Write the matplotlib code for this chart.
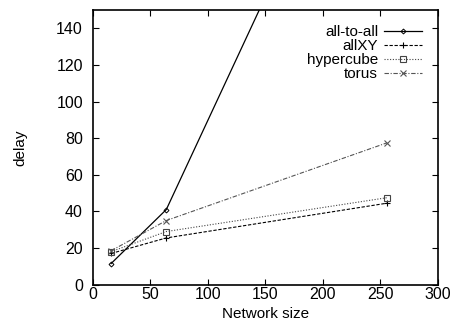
import matplotlib
matplotlib.use("Agg")
import matplotlib.pyplot as plt

plt.rcParams['font.family'] = ['Liberation Sans', 'DejaVu Sans']

network_size = [16, 64, 256]
all_to_all = [11.5, 41, 300]
all_xy = [17, 25.5, 44.5]
hypercube = [18, 29, 47.5]
torus = [18.5, 35, 77.5]

fig = plt.figure(figsize=(4.6, 3.26), dpi=100)
ax = fig.add_axes([0.2015, 0.127, 0.75, 0.842])

ax.plot(network_size, all_to_all, color='black', lw=0.9, ls='-', marker='D', ms=2.5,
        mfc='none', mew=0.7, label='all-to-all')
ax.plot(network_size, all_xy, color='black', lw=0.8, ls=(0, (3, 1.5)), marker='+', ms=5,
        mew=0.8, label='allXY')
ax.plot(network_size, hypercube, color='#444444', lw=0.8, ls=(0, (1, 1.5)), marker='s', ms=4,
        mfc='none', mew=0.8, label='hypercube')
ax.plot(network_size, torus, color='#555555', lw=0.8, ls=(0, (4, 1.5, 1, 1.5)), marker='x', ms=4,
        mew=0.8, label='torus')

ax.set_xlim(0, 300)
ax.set_ylim(0, 150)
ax.set_xticks([0, 50, 100, 150, 200, 250, 300])
ax.set_yticks([0, 20, 40, 60, 80, 100, 120, 140])
ax.tick_params(direction='in', top=True, right=True, labelsize=11.5, length=4, width=0.8)
ax.tick_params(axis='x', pad=2)
ax.tick_params(axis='y', pad=7)
for s in ax.spines.values():
    s.set_linewidth(1.2)

ax.set_xlabel('Network size', fontsize=11, labelpad=3)
ax.set_ylabel('delay', fontsize=11, labelpad=21)

leg = ax.legend(loc='upper right', frameon=False, markerfirst=False, fontsize=11,
                handlelength=2.5, handletextpad=0.4, labelspacing=0.0,
                borderaxespad=0.6)

fig.savefig('out.png', dpi=100)
